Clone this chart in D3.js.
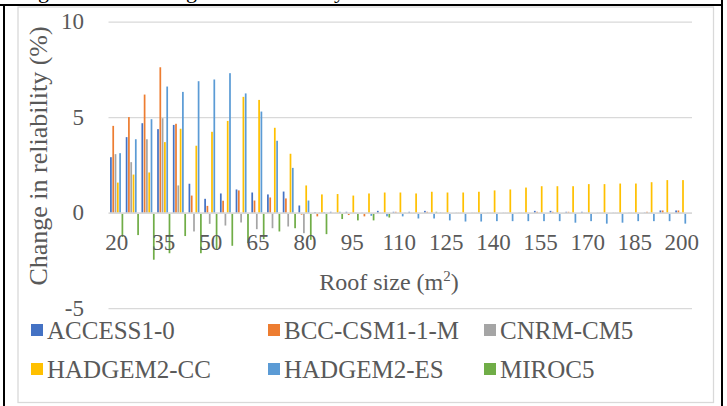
<!DOCTYPE html>
<html><head><meta charset="utf-8">
<script src="https://cdn.jsdelivr.net/npm/d3@7"></script>
<style>body{margin:0;background:#fff}svg{display:block}</style>
</head><body><svg id="c" width="727" height="406"></svg>
<script>
const categories = [20,25,30,35,40,45,50,55,60,65,70,75,80,85,90,95,100,105,110,115,120,125,130,135,140,145,150,155,160,165,170,175,180,185,190,195,200];
const seriesNames = ["ACCESS1-0","BCC-CSM1-1-M","CNRM-CM5","HADGEM2-CC","HADGEM2-ES","MIROC5"];
const access1_0 = [2.93,3.98,4.71,4.40,4.62,1.54,0.75,1.03,1.24,1.08,0.98,1.13,0.40,0.05,0.07,0.07,0.02,0.12,0.07,0.07,0.12,0.03,0.02,0.02,0.02,0.02,0.02,0.12,0.12,0.07,0.07,0.02,0.02,0.02,0.03,0.14,0.14];
const bcc_csm1_1_m = [4.57,5.03,6.21,7.64,4.68,0.92,0.38,0.65,1.19,0.66,0.82,0.77,-0.08,-0.17,0.02,-0.10,-0.17,0.02,0.07,0.02,0.07,0.02,0.02,0.02,0.02,0.02,0.02,0.07,0.07,0.07,0.02,0.02,0.02,0.02,0.07,0.14,0.14];
const cnrm_cm5 = [3.09,2.67,3.87,4.97,1.45,-0.96,-0.56,-0.65,-0.49,-0.84,-0.79,-0.70,-1.05,0.03,0.03,0.02,0.02,0.02,0.02,0.02,0.02,0.02,0.02,0.02,0.02,0.02,0.02,0.02,0.02,0.02,0.02,0.02,0.02,0.02,0.02,0.02,0.02];
const hadgem2_cc = [1.60,2.02,2.13,3.72,4.42,3.53,4.26,4.83,6.09,5.93,4.47,3.11,1.45,0.98,1.00,0.92,1.03,1.08,1.08,1.03,1.12,1.08,1.08,1.12,1.19,1.24,1.34,1.41,1.41,1.41,1.52,1.52,1.55,1.55,1.62,1.73,1.73];
const hadgem2_es = [3.14,3.87,4.92,6.63,6.35,6.91,7.00,7.33,6.27,5.32,3.79,2.37,0.66,0.05,0.07,0.02,-0.14,-0.17,-0.17,-0.28,-0.28,-0.38,-0.44,-0.44,-0.42,-0.42,-0.42,-0.42,-0.42,-0.50,-0.42,-0.55,-0.50,-0.42,-0.42,-0.42,-0.55];
const miroc5 = [-1.25,-1.15,-2.44,-2.10,-1.20,-2.10,-1.90,-1.71,-1.57,-1.36,-0.96,-0.79,-1.40,-1.10,-0.31,-0.38,-0.38,-0.23,0.02,0.00,0.07,0.00,0.00,0.00,0.00,0.00,0.00,0.00,0.00,0.00,0.00,0.00,0.00,0.00,0.00,0.00,0.00];
const yTicks = [-5,0,5,10];
const xTickLabels = [20,35,50,65,80,95,110,125,140,155,170,185,200];
const colors = ["#4472C4","#ED7D31","#A5A5A5","#FFC000","#5B9BD5","#70AD47"];
const allSeries = [access1_0,bcc_csm1_1_m,cnrm_cm5,hadgem2_cc,hadgem2_es,miroc5];

const svg = d3.select("#c");
const FONT = "'Liberation Serif', 'Times New Roman', serif";
const TXT = "#595959";

// page frame
svg.append("line").attr("x1",0).attr("x2",723).attr("y1",5).attr("y2",5).attr("stroke","#000").attr("stroke-width",2);
svg.append("line").attr("x1",4).attr("x2",4).attr("y1",4).attr("y2",406).attr("stroke","#000").attr("stroke-width",2);
svg.append("line").attr("x1",722).attr("x2",722).attr("y1",0).attr("y2",406).attr("stroke","#000").attr("stroke-width",2);
// caption descenders peeking above
[["g",38],["g",186],["y",334]].forEach(([t,x])=>{
  svg.append("text").attr("x",x).attr("y",-2).attr("font-family",FONT).attr("font-size",22).attr("fill","#000").text(t);
});
// chart border
svg.append("rect").attr("x",18).attr("y",7).attr("width",695.5).attr("height",395.5).attr("fill","#fff").attr("stroke","#d9d9d9").attr("stroke-width",1.3);

const x0 = d3.scaleBand().domain(categories).range([108.8,689.7]).padding(0);
const groupW = 13.2;
const x1 = d3.scaleBand().domain(seriesNames).range([0,groupW]).paddingInner(0.25).paddingOuter(0);
const y = d3.scaleLinear().domain([-5,10]).range([308.6,22.2]);

// gridlines
svg.append("g").selectAll("line").data(yTicks.filter(d=>d!==0)).join("line")
  .attr("x1",108.5).attr("x2",692).attr("y1",d=>y(d)).attr("y2",d=>y(d))
  .attr("stroke","#d9d9d9").attr("stroke-width",1.3);

// bars
const gOff = (x0.bandwidth()-groupW)/2;
seriesNames.forEach((s,si)=>{
  svg.append("g").selectAll("rect").data(allSeries[si]).join("rect")
    .attr("x",(d,i)=>x0(categories[i])+gOff+x1(s))
    .attr("width",x1.bandwidth())
    .attr("y",d=>y(Math.max(0,d)))
    .attr("height",d=>Math.abs(y(d)-y(0)))
    .attr("fill",colors[si]);
});

// zero axis line
svg.append("line").attr("x1",108.5).attr("x2",692).attr("y1",y(0)).attr("y2",y(0)).attr("stroke","#d9d9d9").attr("stroke-width",1.6);

// y tick labels
svg.append("g").selectAll("text").data(yTicks).join("text")
  .attr("x",84).attr("y",d=>y(d)).attr("dy","0.3em").attr("text-anchor","end")
  .attr("font-family",FONT).attr("font-size",23).attr("fill",TXT).text(d=>d);

// x tick labels
svg.append("g").selectAll("text").data(xTickLabels).join("text")
  .attr("x",d=>x0(d)+x0.bandwidth()/2).attr("y",250)
  .attr("text-anchor","middle").attr("font-family",FONT).attr("font-size",23).attr("fill",TXT).text(d=>d);

// axis titles
const xt = svg.append("text").attr("x",389).attr("y",290).attr("text-anchor","middle")
  .attr("font-family",FONT).attr("font-size",24).attr("fill",TXT);
xt.append("tspan").text("Roof size (m");
xt.append("tspan").attr("dy",-9).attr("font-size",15).text("2");
xt.append("tspan").attr("dy",9).text(")");

svg.append("text").attr("transform","translate(47,156) rotate(-90)").attr("text-anchor","middle")
  .attr("font-family",FONT).attr("font-size",26).attr("fill",TXT).text("Change in reliability (%)");

// legend
const legCols = [31,268,484];
const legRows = [330,369];
seriesNames.forEach((s,i)=>{
  const cx = legCols[i%3], cy = legRows[Math.floor(i/3)];
  svg.append("rect").attr("x",cx).attr("y",cy-6).attr("width",12).attr("height",12).attr("fill",colors[i]);
  svg.append("text").attr("x",cx+16).attr("y",cy).attr("dy","0.35em")
    .attr("font-family",FONT).attr("font-size",25).attr("fill",TXT).text(s);
});
</script></body></html>
